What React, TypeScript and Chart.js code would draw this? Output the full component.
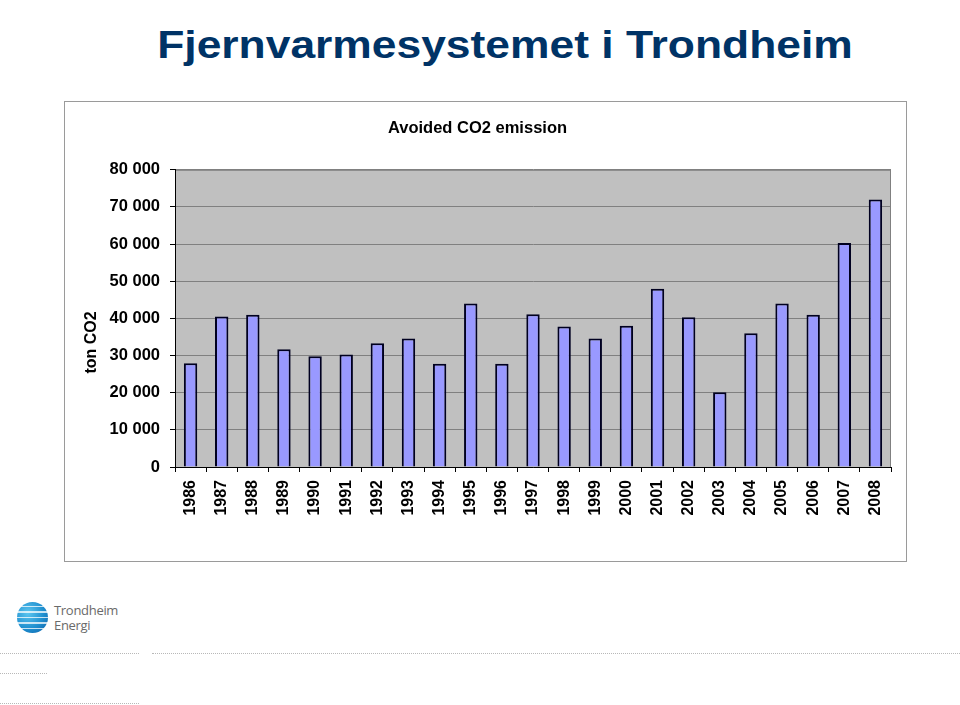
import React, { useEffect, useRef } from "react";
import { Chart, registerables } from "chart.js";

Chart.register(...registerables);

const years = [
  "1986", "1987", "1988", "1989", "1990", "1991", "1992", "1993", "1994", "1995", "1996", "1997",
  "1998", "1999", "2000", "2001", "2002", "2003", "2004", "2005", "2006", "2007", "2008",
];
const avoidedCO2 = [
  27900, 40500, 41000, 31700, 29800, 30300, 33300, 34600, 27800, 44000, 27800, 41100,
  37800, 34600, 38000, 48000, 40300, 20100, 36000, 44000, 41000, 60300, 72000,
];
const yTicks = [0, 10000, 20000, 30000, 40000, 50000, 60000, 70000, 80000];

const pageTitle = "Fjernvarmesystemet i Trondheim";
const chartTitle = "Avoided CO2 emission";
const yTitle = "ton CO2";

const FONT = "'Liberation Sans', Arial, sans-serif";

function fmt(v: number): string {
  return String(v).replace(/\B(?=(\d{3})+(?!\d))/g, " ");
}

const plotBg = {
  id: "plotBg",
  beforeDraw(chart: any) {
    const { ctx, chartArea } = chart;
    ctx.save();
    ctx.fillStyle = "#C0C0C0";
    ctx.fillRect(chartArea.left, chartArea.top, chartArea.right - chartArea.left, chartArea.bottom - chartArea.top);
    ctx.strokeStyle = "#808080";
    ctx.lineWidth = 1;
    ctx.strokeRect(chartArea.left + 0.5, chartArea.top + 0.5, chartArea.right - chartArea.left - 1, chartArea.bottom - chartArea.top);
    ctx.restore();
  },
  afterDraw(chart: any) {
    const { ctx, chartArea } = chart;
    ctx.save();
    ctx.font = `bold 16px ${FONT}`;
    ctx.fillStyle = "#000";
    ctx.textAlign = "center";
    ctx.textBaseline = "middle";
    ctx.translate(28, (chartArea.top + chartArea.bottom) / 2 + 24);
    ctx.rotate(-Math.PI / 2);
    ctx.fillText(yTitle, 0, 0);
    ctx.restore();
  },
};

function BarChart() {
  const ref = useRef<HTMLCanvasElement>(null);
  useEffect(() => {
    if (!ref.current) return;
    const chart = new Chart(ref.current, {
      type: "bar",
      data: {
        labels: years,
        datasets: [
          {
            data: avoidedCO2,
            backgroundColor: "#9999FF",
            borderColor: "#000020",
            borderWidth: 2,
            barPercentage: 0.43,
            categoryPercentage: 1,
          },
        ],
      },
      options: {
        responsive: false,
        animation: false,
        layout: { padding: { left: 0, right: 15, top: 0, bottom: 0 } },
        plugins: {
          legend: { display: false },
          tooltip: { enabled: false },
          title: {
            display: true,
            text: chartTitle,
            color: "#000",
            font: { family: FONT, size: 16.5, weight: "bold" },
            padding: { top: 18, bottom: 31 },
          },
        },
        scales: {
          x: {
            offset: true,
            grid: {
              offset: true,
              drawOnChartArea: false,
              drawTicks: true,
              tickLength: 5,
              tickColor: "#000",
            },
            border: { display: true, color: "#000", width: 1 },
            ticks: {
              color: "#000",
              font: { family: FONT, size: 16, weight: "bold" },
              minRotation: 90,
              maxRotation: 90,
              padding: 8,
              autoSkip: false,
            },
            afterFit(scale: any) {
              scale.height = 94;
            },
          },
          y: {
            min: 0,
            max: 80000,
            afterBuildTicks(scale: any) {
              scale.ticks = yTicks.map((v) => ({ value: v }));
            },
            grid: {
              color: "#808080",
              lineWidth: 1,
              drawTicks: true,
              tickLength: 5,
              tickColor: "#000",
            },
            border: { display: true, color: "#000", width: 1 },
            ticks: {
              color: "#000",
              font: { family: FONT, size: 16.5, weight: "bold" },
              padding: 10,
              callback: (v: any) => fmt(Number(v)),
            },
            afterFit(scale: any) {
              scale.width = 111;
            },
          },
        },
      },
      plugins: [plotBg],
    });
    return () => chart.destroy();
  }, []);
  return (
    <canvas
      ref={ref}
      width={842}
      height={460}
      style={{ position: "absolute", left: 64, top: 101, width: 842, height: 460 }}
    />
  );
}

function Logo() {
  return (
    <div style={{ position: "absolute", left: 17, top: 602 }}>
      <div
        style={{
          position: "absolute",
          left: 0,
          top: 0,
          width: 31,
          height: 31,
          borderRadius: "50%",
          background:
            "repeating-linear-gradient(180deg, rgba(255,255,255,0) 0px, rgba(255,255,255,0) 4px, rgba(255,255,255,0.75) 4px, rgba(255,255,255,0.75) 5.5px), radial-gradient(circle at 35% 35%, #5cc6f0 0%, #1f8fcf 55%, #0b5ea8 100%)",
        }}
      />
      <div
        style={{
          position: "absolute",
          left: 37,
          top: 1,
          fontFamily: "'Open Sans', 'DejaVu Sans', sans-serif",
          fontSize: 13,
          lineHeight: "15px",
          color: "#6a6a6a",
          letterSpacing: -0.3,
          whiteSpace: "nowrap",
        }}
      >
        Trondheim
        <br />
        Energi
      </div>
    </div>
  );
}

function Dotted({ x, y, w }: { x: number; y: number; w: number }) {
  return (
    <div
      style={{
        position: "absolute",
        left: x,
        top: y,
        width: w,
        height: 0,
        borderTop: "1px dotted #b8b8b8",
      }}
    />
  );
}

export default function App() {
  return (
    <div
      style={{
        position: "fixed",
        left: 0,
        top: 0,
        width: 960,
        height: 705,
        background: "#fff",
        overflow: "hidden",
      }}
    >
      <div
        style={{
          position: "absolute",
          left: 0,
          top: 21,
          width: 1010,
          textAlign: "center",
          fontFamily: FONT,
          fontWeight: "bold",
          fontSize: 38,
          lineHeight: "48px",
          color: "#003366",
          whiteSpace: "nowrap",
          transform: "scaleX(1.168)",
          transformOrigin: "505px 0",
        }}
      >
        {pageTitle}
      </div>
      <div
        style={{
          position: "absolute",
          left: 64,
          top: 101,
          width: 843,
          height: 461,
          boxSizing: "border-box",
          border: "1px solid #9a9a9a",
        }}
      />
      <BarChart />
      <Logo />
      <Dotted x={0} y={653} w={139} />
      <Dotted x={152} y={653} w={808} />
      <Dotted x={0} y={673} w={47} />
      <Dotted x={0} y={703} w={139} />
    </div>
  );
}
